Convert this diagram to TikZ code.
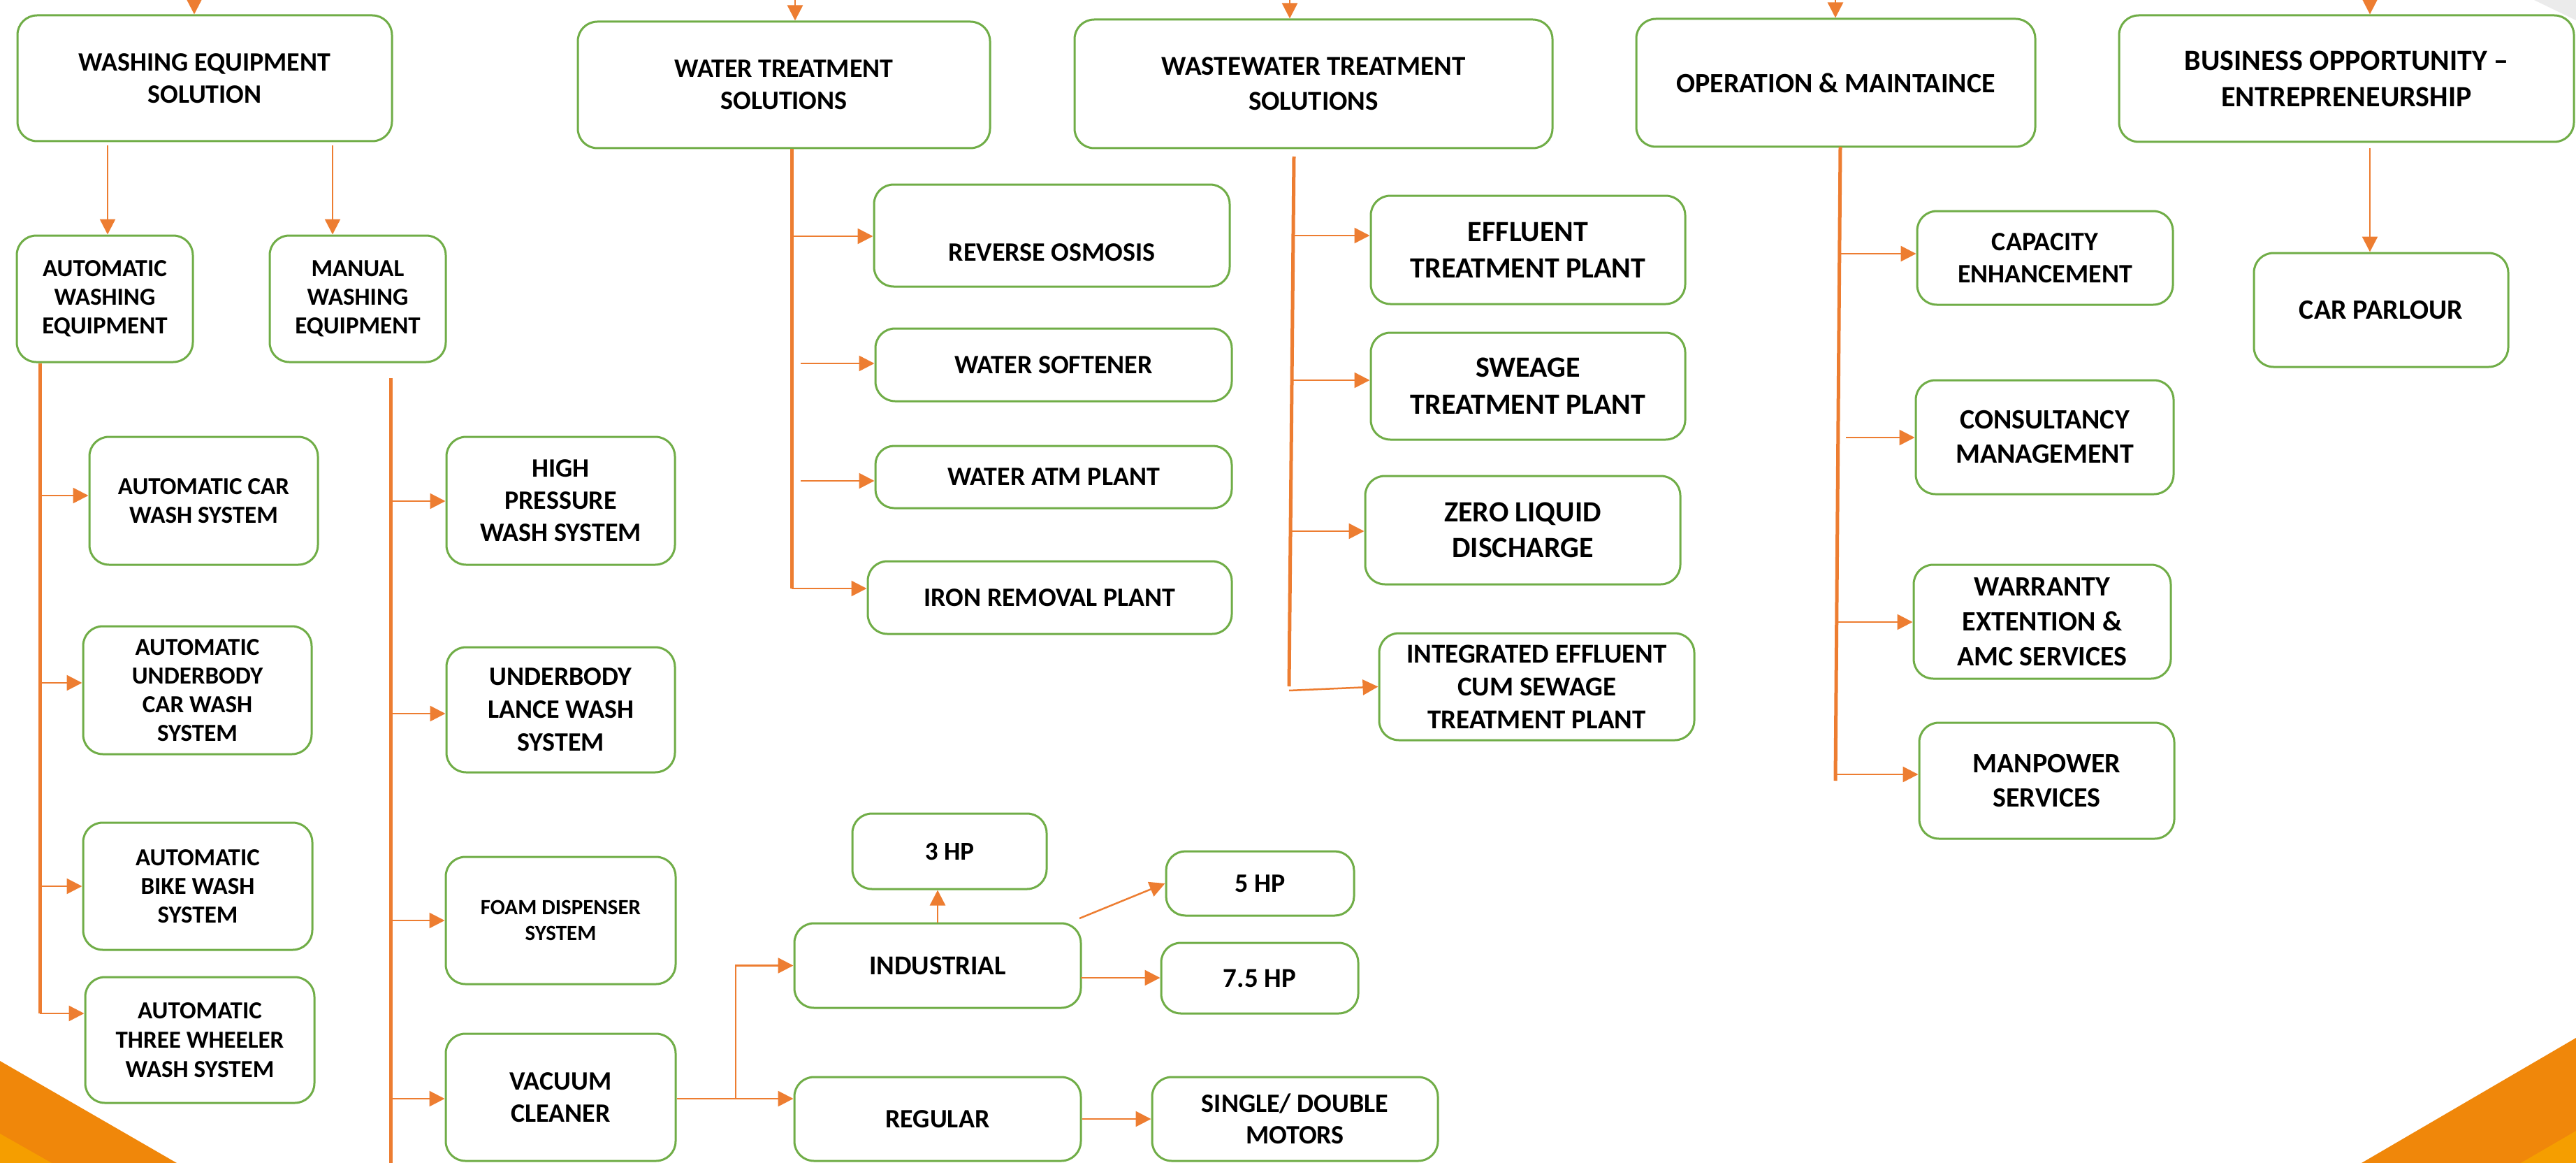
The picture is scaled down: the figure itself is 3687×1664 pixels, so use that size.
\documentclass[tikz,border=0pt]{standalone}
\usepackage{fontspec}
\setmainfont{Carlito}
\usetikzlibrary{arrows.meta}
\definecolor{org}{HTML}{ED7D31}
\definecolor{grn}{HTML}{70AD47}
\definecolor{triA}{HTML}{F0870A}
\definecolor{triB}{HTML}{F59E00}
\definecolor{cornergray}{HTML}{EBEBEB}
\tikzset{
  box/.style={draw=grn, line width=3pt, fill=white, inner sep=0pt, align=center},
  fs/.style 2 args={font=\bfseries\fontsize{#1}{#2}\selectfont},
  trunk/.style={draw=org, line width=5pt},
  br/.style={draw=org, line width=2.5pt, -{Triangle[length=22pt,width=22pt]}},
  ln/.style={draw=org, line width=2.5pt},
}
\newcommand\mybox[7]{%
 \pgfmathsetmacro\bw{#4-#2}%
 \pgfmathsetmacro\bh{#5-#3}%
 \pgfmathsetmacro\cx{(#2+#4)/2}%
 \pgfmathsetmacro\cy{(#3+#5)/2}%
 \pgfmathsetmacro\rr{min(28,0.3*\bh)}%
 \node[box,rounded corners=\rr pt,minimum width=\bw pt,minimum height=\bh pt,#6] (#1) at (\cx,\cy) {#7};}
\begin{document}
\begin{tikzpicture}[x=1pt,y=-1pt]
\useasboundingbox (0,0) rectangle (3687,1664);
\clip (0,0) rectangle (3687,1664);
\fill[white] (0,0) rectangle (3687,1664);
% corner decorations
\fill[triA] (0,1518) -- (253,1664) -- (0,1664) -- cycle;
\fill[triB] (0,1622) -- (74,1664) -- (0,1664) -- cycle;
\fill[triA] (3380,1664) -- (3687,1485) -- (3687,1664) -- cycle;
\fill[triB] (3608,1664) -- (3687,1618) -- (3687,1664) -- cycle;
\fill[cornergray] (3627,0) -- (3687,0) -- (3687,29) -- cycle;

% headers
\mybox{wes}{25}{22}{561}{202}{fs={38}{46}}{WASHING EQUIPMENT\\SOLUTION}
\mybox{wts}{827}{31}{1417}{212}{fs={38}{46}}{WATER TREATMENT\\SOLUTIONS}
\mybox{wwts}{1538}{28}{2222}{212}{fs={39}{50}}{WASTEWATER TREATMENT\\SOLUTIONS}
\mybox{om}{2342}{27}{2913}{210}{fs={40}{48}}{OPERATION \& MAINTAINCE}
\mybox{boe}{3033}{22}{3684}{203}{fs={42}{52}}{BUSINESS OPPORTUNITY \textendash\\ENTREPRENEURSHIP}

% washing equipment
\mybox{awe}{24}{337}{276}{518}{fs={35}{41}}{AUTOMATIC\\WASHING\\EQUIPMENT}
\mybox{mwe}{386}{337}{638}{518}{fs={35}{41}}{MANUAL\\WASHING\\EQUIPMENT}
\mybox{acws}{128}{625}{455}{808}{fs={35}{41}}{AUTOMATIC CAR\\WASH SYSTEM}
\mybox{aucws}{119}{896}{446}{1079}{fs={35}{41}}{AUTOMATIC\\UNDERBODY\\CAR WASH\\SYSTEM}
\mybox{abws}{119}{1177}{447}{1359}{fs={35}{41}}{AUTOMATIC\\BIKE WASH\\SYSTEM}
\mybox{atwws}{122}{1398}{450}{1578}{fs={35}{42}}{AUTOMATIC\\THREE WHEELER\\WASH SYSTEM}
\mybox{hpws}{639}{625}{966}{808}{fs={38}{46}}{HIGH\\PRESSURE\\WASH SYSTEM}
\mybox{ulws}{639}{926}{966}{1105}{fs={38}{47}}{UNDERBODY\\LANCE WASH\\SYSTEM}
\mybox{foam}{638}{1226}{967}{1408}{fs={31}{37}}{FOAM DISPENSER\\SYSTEM}
\mybox{vac}{638}{1479}{967}{1661}{fs={38}{46}}{VACUUM\\CLEANER}

% vacuum sub-tree
\mybox{hp3}{1220}{1164}{1498}{1272}{fs={37}{44}}{3 HP}
\mybox{hp5}{1669}{1218}{1938}{1310}{fs={38}{46}}{5 HP}
\mybox{ind}{1137}{1321}{1547}{1442}{fs={39}{46}}{INDUSTRIAL}
\mybox{hp75}{1662}{1349}{1944}{1450}{fs={39}{46}}{7.5 HP}
\mybox{reg}{1137}{1541}{1547}{1661}{fs={38}{46}}{REGULAR}
\mybox{sdm}{1649}{1541}{2058}{1661}{fs={38}{45}}{SINGLE/ DOUBLE\\MOTORS}

% water treatment
\mybox{ro}{1251}{264}{1760}{410}{}{}
\node[fs={38}{46}] (rot) at ([yshift=-24pt]ro.center) {REVERSE OSMOSIS};
\mybox{ws}{1253}{470}{1763}{574}{fs={38}{46}}{WATER SOFTENER}
\mybox{atm}{1253}{638}{1763}{727}{fs={38}{46}}{WATER ATM PLANT}
\mybox{iron}{1242}{803}{1763}{907}{fs={38}{46}}{IRON REMOVAL PLANT}

% wastewater
\mybox{etp}{1962}{280}{2412}{435}{fs={42}{52}}{EFFLUENT\\TREATMENT PLANT}
\mybox{stp}{1962}{476}{2412}{629}{fs={42}{53}}{SWEAGE\\TREATMENT PLANT}
\mybox{zld}{1954}{681}{2405}{836}{fs={42}{51}}{ZERO LIQUID\\DISCHARGE}
\mybox{iec}{1974}{906}{2425}{1059}{fs={39}{47}}{INTEGRATED EFFLUENT\\CUM SEWAGE\\TREATMENT PLANT}

% operation & maintenance
\mybox{cap}{2744}{302}{3110}{436}{fs={38}{46}}{CAPACITY\\ENHANCEMENT}
\mybox{cons}{2742}{544}{3111}{707}{fs={40}{49}}{CONSULTANCY\\MANAGEMENT}
\mybox{warr}{2739}{808}{3107}{971}{fs={40}{50}}{WARRANTY\\EXTENTION \&\\AMC SERVICES}
\mybox{man}{2747}{1034}{3112}{1200}{fs={40}{49}}{MANPOWER\\SERVICES}

% business
\mybox{carp}{3226}{362}{3590}{525}{fs={40}{48}}{CAR PARLOUR}

% incoming arrows from above
\coordinate (i1) at (278,-40);  \draw[br] (i1) -- (i1 |- wes.north);
\coordinate (i2) at (1138,-40); \draw[br] (i2) -- (i2 |- wts.north);
\coordinate (i3) at (1846,-40); \draw[br] (i3) -- (i3 |- wwts.north);
\coordinate (i4) at (2627,-40); \draw[br] (i4) -- (i4 |- om.north);
\coordinate (i5) at (3392,-40); \draw[br] (i5) -- (i5 |- boe.north);

% WES children
\coordinate (w1) at (154,208); \draw[br] (w1) -- (w1 |- awe.north);
\coordinate (w2) at (476,208); \draw[br] (w2) -- (w2 |- mwe.north);
% BOE child
\coordinate (b1) at (3392,212); \draw[br] (b1) -- (b1 |- carp.north);

% automatic trunk
\coordinate (ta) at (57,1450);
\draw[trunk] (awe.south -| ta) -- (ta);
\coordinate (ta1) at (57,709);  \draw[br] (ta1) -- (ta1 -| acws.west);
\coordinate (ta2) at (57,977);  \draw[br] (ta2) -- (ta2 -| aucws.west);
\coordinate (ta3) at (57,1268); \draw[br] (ta3) -- (ta3 -| abws.west);
\draw[br] (ta) -- (ta -| atwws.west);

% manual trunk
\coordinate (tm0) at (559,541); \coordinate (tm) at (559,1700);
\draw[trunk] (tm0) -- (tm);
\coordinate (tm1) at (559,717);  \draw[br] (tm1) -- (tm1 -| hpws.west);
\coordinate (tm2) at (559,1021); \draw[br] (tm2) -- (tm2 -| ulws.west);
\coordinate (tm3) at (559,1317); \draw[br] (tm3) -- (tm3 -| foam.west);
\coordinate (tm4) at (559,1572); \draw[br] (tm4) -- (tm4 -| vac.west);

% water treatment trunk
\coordinate (tw) at (1133,842);
\draw[trunk] (wts.south -| tw) -- (tw);
\draw[br] (tw) -- (tw -| iron.west);
\coordinate (tw1) at (1135,338); \draw[br] (tw1) -- (tw1 -| ro.west);
\coordinate (tw2) at (1146,520); \draw[br] (tw2) -- (tw2 -| ws.west);
\coordinate (tw3) at (1146,688); \draw[br] (tw3) -- (tw3 -| atm.west);

% wastewater trunk
\coordinate (tx0) at (1852,224); \coordinate (tx1) at (1845,982);
\draw[trunk] (tx0) -- (tx1);
\coordinate (tx2) at (1851,337); \draw[br] (tx2) -- (tx2 -| etp.west);
\coordinate (tx3) at (1849,544); \draw[br] (tx3) -- (tx3 -| stp.west);
\coordinate (tx4) at (1847,760); \draw[br] (tx4) -- (tx4 -| zld.west);
\coordinate (tx5) at (1845,988); \draw[br] (tx5) -- (iec.west);

% O&M trunk
\coordinate (to0) at (2634,210); \coordinate (to1) at (2627,1117);
\draw[trunk] (to0) -- (to1);
\coordinate (to2) at (2633,363);  \draw[br] (to2) -- (to2 -| cap.west);
\coordinate (to3) at (2642,626);  \draw[br] (to3) -- (to3 -| cons.west);
\coordinate (to4) at (2629,890);  \draw[br] (to4) -- (to4 -| warr.west);
\coordinate (to5) at (2627,1108); \draw[br] (to5) -- (to5 -| man.west);

% vacuum cleaner sub-tree
\coordinate (v1) at (1053,1572);
\draw[ln] (v1 -| vac.east) -- (v1);
\draw[br] (v1) |- (ind.west);
\draw[br] (v1) -- (v1 -| reg.west);
\draw[br] (ind.north) -- (ind.north |- hp3.south);
\coordinate (v2) at (1545,1314); \draw[br] (v2) -- (hp5.west);
\coordinate (v3) at (1547,1399); \draw[br] (v3) -- (v3 -| hp75.west);
\draw[br] (reg.east) -- (sdm.west);
\end{tikzpicture}
\end{document}
